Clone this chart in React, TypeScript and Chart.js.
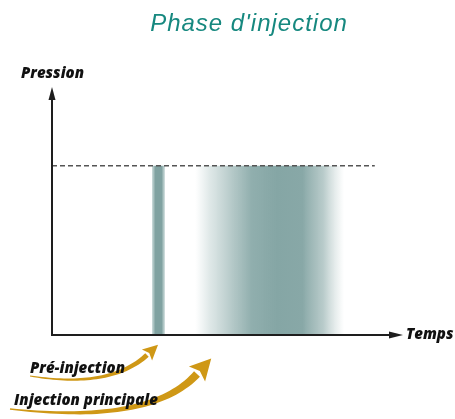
import React, { useEffect, useRef } from "react";
import { Chart, registerables } from "chart.js";

Chart.register(...registerables);

// ---- data ----
const chartTitle = "Phase d'injection";
const yAxisLabel = "Pression";
const xAxisLabel = "Temps";
const pulseNames = ["Pré-injection", "Injection principale"];
const pulseStart = [29.6, 42.4];
const pulseEnd = [33.4, 86.4];
const pulsePressure = [72, 72];
const refLineX = [0, 95.5];
const refLineY = [72, 72];

const W = 455;
const H = 419;

function swoosh(
  ctx: CanvasRenderingContext2D,
  p0: number[],
  c: number[],
  p1: number[],
  w0: number,
  w1: number,
  headLen: number,
  headW: number,
  color: string
) {
  const n = 40;
  const left: number[][] = [];
  const right: number[][] = [];
  for (let i = 0; i <= n; i++) {
    const t = i / n;
    const x = (1 - t) * (1 - t) * p0[0] + 2 * (1 - t) * t * c[0] + t * t * p1[0];
    const y = (1 - t) * (1 - t) * p0[1] + 2 * (1 - t) * t * c[1] + t * t * p1[1];
    const dx = 2 * (1 - t) * (c[0] - p0[0]) + 2 * t * (p1[0] - c[0]);
    const dy = 2 * (1 - t) * (c[1] - p0[1]) + 2 * t * (p1[1] - c[1]);
    const len = Math.hypot(dx, dy) || 1;
    const nx = -dy / len;
    const ny = dx / len;
    const w = (w0 + (w1 - w0) * t) / 2;
    left.push([x + nx * w, y + ny * w]);
    right.push([x - nx * w, y - ny * w]);
  }
  ctx.save();
  ctx.fillStyle = color;
  ctx.beginPath();
  ctx.moveTo(left[0][0], left[0][1]);
  for (const p of left) ctx.lineTo(p[0], p[1]);
  for (let i = right.length - 1; i >= 0; i--) ctx.lineTo(right[i][0], right[i][1]);
  ctx.closePath();
  ctx.fill();
  // head
  const dx = p1[0] - c[0];
  const dy = p1[1] - c[1];
  const len = Math.hypot(dx, dy) || 1;
  const ux = dx / len;
  const uy = dy / len;
  const nx = -uy;
  const ny = ux;
  const tip = [p1[0] + ux * headLen, p1[1] + uy * headLen];
  const back = [p1[0] + ux * headLen * 0.2, p1[1] + uy * headLen * 0.2];
  ctx.beginPath();
  ctx.moveTo(tip[0], tip[1]);
  ctx.lineTo(p1[0] + (nx * headW) / 2, p1[1] + (ny * headW) / 2);
  ctx.lineTo(back[0], back[1]);
  ctx.lineTo(p1[0] - (nx * headW) / 2, p1[1] - (ny * headW) / 2);
  ctx.closePath();
  ctx.fill();
  ctx.restore();
}

const decorPlugin = {
  id: "decor",
  afterDraw(chart: any) {
    const ctx: CanvasRenderingContext2D = chart.ctx;
    const { left, bottom, top, right } = chart.chartArea;
    ctx.save();
    // axes
    ctx.strokeStyle = "#1e1e1e";
    ctx.fillStyle = "#1e1e1e";
    ctx.lineWidth = 2;
    ctx.beginPath();
    ctx.moveTo(left, bottom);
    ctx.lineTo(left, top - 2);
    ctx.moveTo(left - 1, bottom);
    ctx.lineTo(right + 2, bottom);
    ctx.stroke();
    // y arrow
    ctx.beginPath();
    ctx.moveTo(left, top - 13);
    ctx.lineTo(left - 3.5, top);
    ctx.lineTo(left + 3.5, top);
    ctx.closePath();
    ctx.fill();
    // x arrow
    ctx.beginPath();
    ctx.moveTo(right + 13, bottom);
    ctx.lineTo(right - 1, bottom - 3.5);
    ctx.lineTo(right - 1, bottom + 3.5);
    ctx.closePath();
    ctx.fill();

    // title
    ctx.fillStyle = "#16887f";
    ctx.font = "italic 24px 'Liberation Sans', Arial, sans-serif";
    (ctx as any).letterSpacing = "1px";
    ctx.textAlign = "center";
    ctx.textBaseline = "alphabetic";
    ctx.fillText(chartTitle, 249, 31);
    (ctx as any).letterSpacing = "0px";

    // axis labels
    ctx.fillStyle = "#111";
    ctx.font = "italic 800 15px 'Open Sans', sans-serif";
    ctx.textAlign = "left";
    ctx.fillText(yAxisLabel, 21, 78);
    ctx.fillText(xAxisLabel, 406, 339);

    // arrows to pulses
    const orange = "#cf9816";
    swoosh(ctx, [30, 376], [110, 389], [147, 355], 1.2, 5, 15, 15, orange);
    swoosh(ctx, [10, 409], [150, 425], [197, 374], 1.5, 8, 21, 22, orange);

    ctx.fillStyle = "#111";
    ctx.font = "italic 800 15px 'Open Sans', sans-serif";
    ctx.fillText(pulseNames[0], 30, 373);
    ctx.fillText(pulseNames[1], 14, 405);
    ctx.restore();
  },
};

function pulseGradient(index: number) {
  return (context: any) => {
    const chart = context.chart;
    if (!chart.chartArea) return "rgba(135,167,166,1)";
    const xs = chart.scales.x;
    const x0 = xs.getPixelForValue(pulseStart[index]);
    const x1 = xs.getPixelForValue(pulseEnd[index]);
    const g = chart.ctx.createLinearGradient(x0, 0, x1, 0);
    if (index === 0) {
      g.addColorStop(0, "rgba(165,192,191,0.6)");
      g.addColorStop(0.25, "rgba(128,162,161,1)");
      g.addColorStop(0.75, "rgba(128,162,161,1)");
      g.addColorStop(1, "rgba(170,195,194,0.6)");
    } else {
      g.addColorStop(0, "rgba(170,194,193,0)");
      g.addColorStop(0.1, "rgba(160,187,186,0.35)");
      g.addColorStop(0.25, "rgba(148,177,176,0.7)");
      g.addColorStop(0.38, "rgba(138,170,169,0.95)");
      g.addColorStop(0.55, "rgba(133,166,165,1)");
      g.addColorStop(0.72, "rgba(136,168,167,1)");
      g.addColorStop(0.86, "rgba(160,185,184,0.75)");
      g.addColorStop(1, "rgba(185,203,202,0)");
    }
    return g;
  };
}

export default function App() {
  const ref = useRef<HTMLCanvasElement>(null);
  useEffect(() => {
    document.body.style.margin = "0";
    if (!ref.current) return;
    const pulseSets = pulseNames.map((name, i) => ({
      label: name,
      data: [
        { x: pulseStart[i], y: pulsePressure[i] },
        { x: pulseEnd[i], y: pulsePressure[i] },
      ],
      borderWidth: 0,
      borderColor: "rgba(0,0,0,0)",
      pointRadius: 0,
      fill: "origin",
      backgroundColor: pulseGradient(i),
      order: 2,
    }));
    const chart = new Chart(ref.current, {
      type: "line",
      data: {
        datasets: [
          ...pulseSets,
          {
            label: "Référence",
            data: refLineX.map((x, i) => ({ x, y: refLineY[i] })),
            borderColor: "#555",
            borderWidth: 1.6,
            borderDash: [5, 3],
            pointRadius: 0,
            fill: false,
            order: 1,
          },
        ] as any,
      },
      options: {
        responsive: false,
        animation: false,
        layout: { padding: { left: 52, right: W - 390, top: 100, bottom: H - 335 } },
        plugins: {
          legend: { display: false },
          title: { display: false },
          tooltip: { enabled: false },
        },
        scales: {
          x: { type: "linear", min: 0, max: 100, display: false },
          y: { type: "linear", min: 0, max: 100, display: false },
        },
      },
      plugins: [decorPlugin],
    });
    return () => chart.destroy();
  }, []);
  return <canvas ref={ref} width={W} height={H} style={{ display: "block" }} />;
}
